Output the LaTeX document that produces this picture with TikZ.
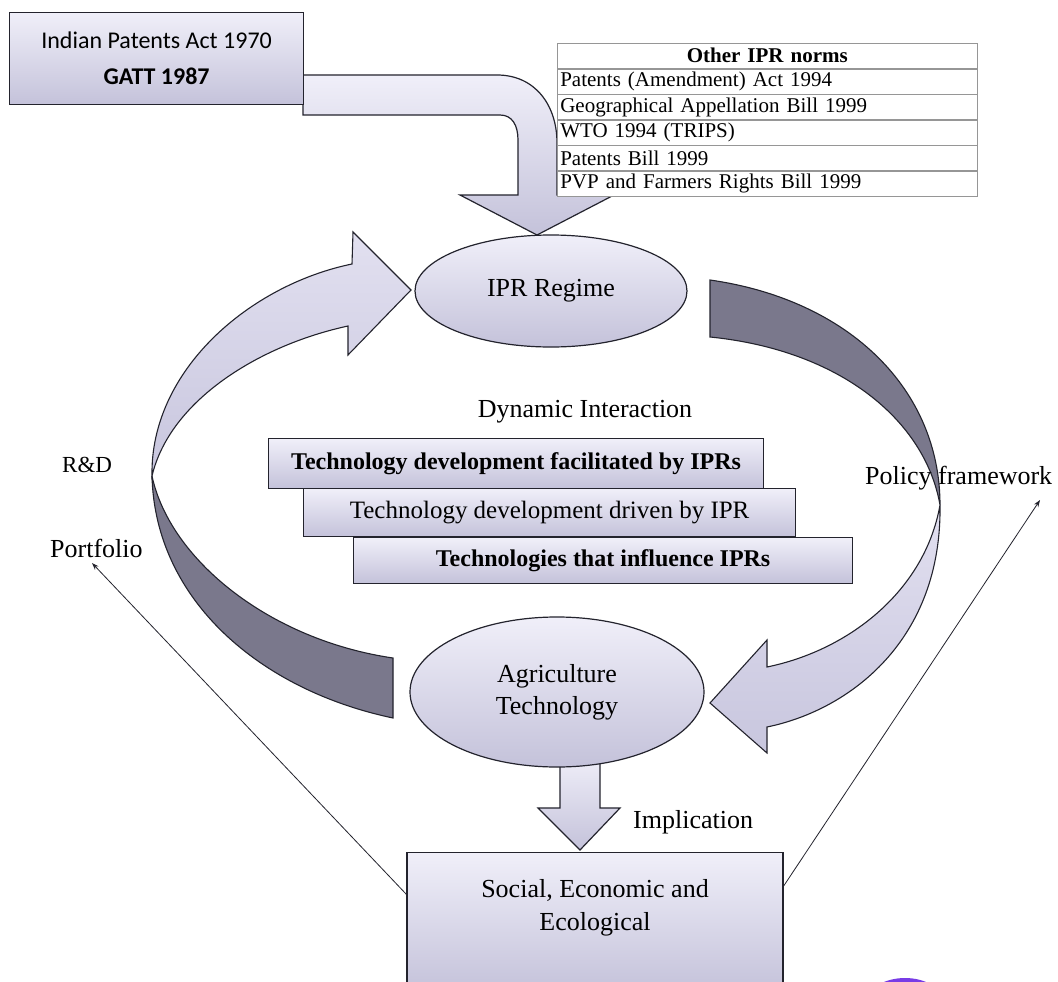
\documentclass[tikz,border=0pt]{standalone}
\usepackage{fontspec}
\setmainfont{Liberation Serif}
\newfontfamily\calib{Carlito}
\usetikzlibrary{shapes.geometric,arrows.meta,calc}
\definecolor{lavtop}{RGB}{240,239,249}
\definecolor{lavbot}{RGB}{196,194,218}
\definecolor{bandtop}{RGB}{226,224,240}
\definecolor{bandbot}{RGB}{200,198,222}
\definecolor{darkband}{RGB}{122,120,140}
\definecolor{edge}{RGB}{35,35,45}
\definecolor{tabline}{RGB}{150,150,150}
\definecolor{blob}{RGB}{120,60,230}
\begin{document}
\begin{tikzpicture}[x=1pt,y=-1pt,
  every node/.style={font=\fontsize{26}{31}\selectfont, inner sep=0pt},
  lav/.style={top color=lavtop, bottom color=lavbot, draw=edge, line width=1.2pt},
  lightband/.style={top color=bandtop, bottom color=bandbot, draw=edge, line width=1.1pt},
  darkpart/.style={fill=darkband, draw=edge, line width=1.1pt},
  stackbox/.style={lav, anchor=north west, align=center},
  trow/.style={draw=tabline, fill=white, line width=0.6pt, anchor=north west,
     minimum width=420pt, minimum height=25pt, text width=414pt, align=left,
     font=\fontsize{21}{23}\selectfont},
  thin/.style={draw=edge, line width=0.8pt, -{Stealth[length=7pt,width=5pt]}}
]
\clip (0,0) rectangle (1058,982);
\fill[white] (0,0) rectangle (1058,982);

% bent arrow from the top-left box to IPR Regime
\draw[lav] (303,75) -- (497,75) .. controls (535,75) and (557,105) .. (557,143)
  -- (557,195) -- (614,195) -- (537,235) -- (460,195) -- (518,195) -- (518,140)
  .. controls (518,125) and (512,115) .. (500,115) -- (303,115) -- cycle;

% top-left box
\node[lav, anchor=north west, minimum width=294pt, minimum height=92pt, align=center,
  font=\calib\fontsize{24}{36}\selectfont] (ipa) at (9,12)
  {Indian Patents Act 1970\\\textbf{GATT 1987}};

% table of other IPR norms
\node[trow, align=center] (t0) at (557,43) {\textbf{Other IPR norms}};
\node[trow] (t1) at (t0.south west) {Patents (Amendment) Act 1994};
\node[trow] (t2) at (t1.south west) {Geographical Appellation Bill 1999};
\node[trow] (t3) at (t2.south west) {WTO 1994 (TRIPS)};
\node[trow] (t4) at (t3.south west) {Patents Bill 1999};
\node[trow] (t5) at (t4.south west) {PVP and Farmers Rights Bill 1999};

% left ribbon arrow (R&D side)
\draw[darkpart] (393,718) .. controls (260,690) and (155,600) .. (152,476)
  .. controls (170,560) and (270,640) .. (393,658) -- cycle;
\draw[lightband] (152,476) .. controls (150,370) and (250,285) .. (352,264)
  -- (353,232) -- (411,290) -- (348,355) -- (348,326)
  .. controls (260,345) and (170,400) .. (152,476) -- cycle;

% right ribbon arrow (policy side)
\draw[darkpart] (710,280) .. controls (850,300) and (940,390) .. (940,505)
  .. controls (925,420) and (840,350) .. (710,337) -- cycle;
\draw[lightband] (940,505) .. controls (942,640) and (850,710) .. (767,727)
  -- (767,753) -- (710,703) -- (767,640) -- (767,667)
  .. controls (850,650) and (925,590) .. (940,505) -- cycle;

% IPR Regime
\node[ellipse, lav, minimum width=272pt, minimum height=112pt] (ipr) at (551,291) {IPR Regime};

% dynamic interaction
\node (dyn) at (585,412) {Dynamic Interaction};
\node[stackbox, minimum width=495pt, minimum height=50pt, font=\bfseries\fontsize{24}{28}\selectfont] (b1) at (268,438) {Technology development facilitated by IPRs};
\node[stackbox, minimum width=492pt, minimum height=48pt, font=\fontsize{25}{28}\selectfont] (b2) at (303,488) {Technology development driven by IPR};
\node[stackbox, minimum width=499pt, minimum height=46pt, font=\bfseries\fontsize{24}{28}\selectfont] (b3) at (353,537) {Technologies that influence IPRs};

% implication arrow
\draw[lav] (560,755) -- (600,755) -- (600,808) -- (620,808) -- (580,850) -- (538,808) -- (560,808) -- cycle;

% Agriculture technology
\node[ellipse, lav, minimum width=294pt, minimum height=150pt, align=center,
  font=\fontsize{26}{32}\selectfont] (agri) at (557,692) {Agriculture\\Technology};

\node[anchor=west] (impl) at (633,822) {Implication};

% social box
\node[lav, anchor=north, minimum width=376pt, minimum height=140pt] (soc) at (595,852) {};
\node[align=center, font=\fontsize{26}{33}\selectfont] (soct) at (595,908) {Social, Economic and\\Ecological};

% side labels
\node[anchor=west, font=\fontsize{23}{28}\selectfont] (rd) at (62,465) {R\&D};
\node[anchor=west] (port) at (50,548) {Portfolio};
\node[anchor=west] (pol) at (865,478) {Policy framework};

% thin connectors
\coordinate (socL) at (407,895);
\coordinate (socR) at (783,887);
\coordinate (portTip) at (92,563);
\coordinate (polTip) at (1040,500);
\draw[thin] (socL) -- (portTip);
\draw[thin] (socR) -- (polTip);

% purple mark at the bottom edge
\fill[blob] (905,1002) ellipse [x radius=38, y radius=24];
\end{tikzpicture}
\end{document}
